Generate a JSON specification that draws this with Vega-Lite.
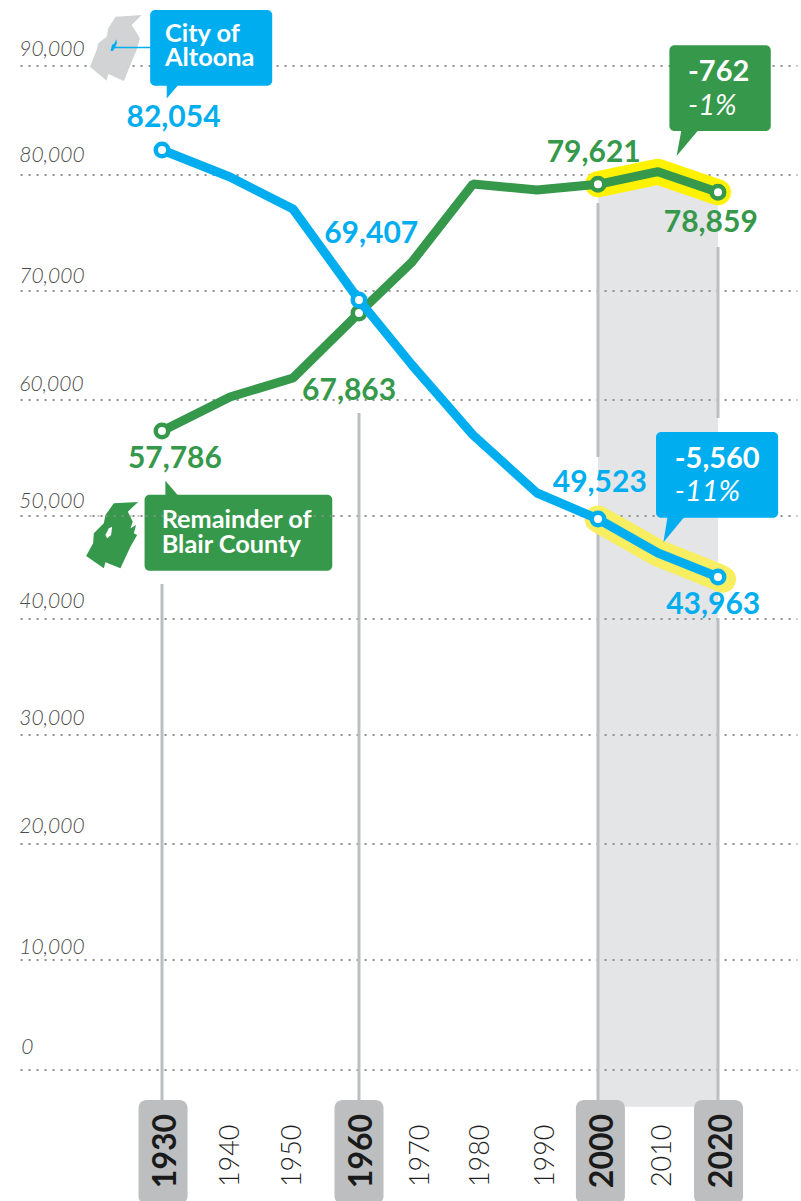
{"$schema":"https://vega.github.io/schema/vega-lite/v6.json","width":801,"height":1201,"padding":0,"autosize":{"type":"fit","contains":"padding"},"background":"white","config":{"view":{"stroke":null}},
"datasets":{
"blue":[{"year":1930,"value":82294},{"year":1940,"value":79828},{"year":1950,"value":77069},{"year":1960,"value":69174},{"year":1970,"value":63211},{"year":1980,"value":56983},{"year":1990,"value":51983},{"year":2000,"value":49709},{"year":2010,"value":46408},{"year":2020,"value":44078}],
"green":[{"year":1930,"value":57328},{"year":1940,"value":60275},{"year":1950,"value":62018},{"year":1960,"value":67982},{"year":1970,"value":72500},{"year":1980,"value":79224},{"year":1990,"value":78707},{"year":2000,"value":79198},{"year":2010,"value":80303},{"year":2020,"value":78509}],
"bluehighlight":[{"year":2000,"value":49709},{"year":2010,"value":46408},{"year":2020,"value":44078},{"year":2020.8,"value":43860}],
"band":[{"year":2000,"value":79198,"value2":-3336},{"year":2010,"value":80303,"value2":-3336},{"year":2020,"value":78509,"value2":-3336}],
"grid":[{"year":1908.5,"year2":2034,"value":0},{"year":1908.5,"year2":2034,"value":10000},{"year":1908.5,"year2":2034,"value":20000},{"year":1908.5,"year2":2034,"value":30000},{"year":1908.5,"year2":2034,"value":40000},{"year":1908.5,"year2":2034,"value":50000},{"year":1908.5,"year2":2034,"value":60000},{"year":1908.5,"year2":2034,"value":70000},{"year":1908.5,"year2":2034,"value":80000},{"year":1908.5,"year2":2034,"value":90000}],
"gridlabels":[{"year":1908.3,"value":90909,"label":"90,000"},{"year":1908.3,"value":81193,"label":"80,000"},{"year":1908.3,"value":70690,"label":"70,000"},{"year":1908.3,"value":60870,"label":"60,000"},{"year":1908.3,"value":50730,"label":"50,000"},{"year":1908.3,"value":41020,"label":"40,000"},{"year":1908.3,"value":30900,"label":"30,000"},{"year":1908.3,"value":21050,"label":"20,000"},{"year":1908.3,"value":10480,"label":"10,000"},{"year":1908.6,"value":1410,"label":"0"}],
"rules":[{"year":1930,"value":43398,"value2":-2727},{"year":1960,"value":58879,"value2":-2727},{"year":2000,"value":77586,"value2":55086},{"year":2000,"value":49612,"value2":-2727},{"year":2020,"value":73793,"value2":58448},{"year":2020,"value":40097,"value2":-2727}],
"pills":[{"year":1930.15,"value":-2727,"value2":-12200,"mid":-7364,"label":"1930"},{"year":1960,"value":-2727,"value2":-12200,"mid":-7364,"label":"1960"},{"year":2000.4,"value":-2727,"value2":-12200,"mid":-7364,"label":"2000"},{"year":2020.1,"value":-2727,"value2":-12200,"mid":-7364,"label":"2020"}],
"ticks":[{"year":1939.7,"value":-7800,"label":"1940"},{"year":1949.5,"value":-7800,"label":"1950"},{"year":1971,"value":-7800,"label":"1970"},{"year":1980.8,"value":-7800,"label":"1980"},{"year":1991,"value":-7800,"label":"1990"},{"year":2010.3,"value":-7800,"label":"2010"}],
"bluelabels":[{"year":1931.7,"value":84404,"label":"82,054"},{"year":1962.3,"value":74138,"label":"69,407"},{"year":2000.3,"value":52069,"label":"49,523"},{"year":2019.2,"value":40485,"label":"43,963"}],
"greenlabels":[{"year":1931.9,"value":54138,"label":"57,786"},{"year":1958.5,"value":60000,"label":"67,863"},{"year":1999.3,"value":81193,"label":"79,621"},{"year":2018.8,"value":75086,"label":"78,859"}],
"bluebox":[{"year":1928.2,"year2":1946.7,"value":95091,"value2":88193},{"year":2009.67,"year2":2030.6,"value":57241,"value2":49835}],
"greenbox":[{"year":2011.9,"year2":2029.3,"value":91882,"value2":84037},{"year":1927.35,"year2":1955.95,"value":51836,"value2":44689}],
"boxnames":[{"year":1930.44,"value":92209,"label":"City of"},{"year":1930.44,"value":90027,"label":"Altoona"},{"year":1929.95,"value":48806,"label":"Remainder of"},{"year":1929.95,"value":46437,"label":"Blair County"}],
"boxchanges":[{"year":2015,"value":88651,"label":"-762"},{"year":2012.8,"value":54138,"label":"-5,560"}],
"boxpercents":[{"year":2015,"value":85505,"label":"-1%"},{"year":2012.8,"value":51293,"label":"-11%"}]
},
"encoding":{
"x":{"field":"year","type":"quantitative","axis":null,"scale":{"domain":[1906,1930,1940,1950,1960,1970,1980,1990,2000,2010,2020,2034],"range":[-1.2,162,230,293,359,412,473,537,598,658,718,802],"zero":false,"nice":false}},
"y":{"field":"value","type":"quantitative","axis":null,"scale":{"domain":[-12000,0,10000,20000,30000,40000,50000,60000,70000,80000,90000,96000],"range":[1202,1070,960,844,735,619,516,400,291,175,66,0],"zero":false,"nice":false}}
},
"layer":[
{"data":{"name":"band"},"mark":{"type":"area","color":"#e4e5e7","opacity":1},"encoding":{"y2":{"field":"value2"}}},
{"data":{"name":"grid"},"mark":{"type":"rule","color":"#8f8f8f","strokeWidth":2,"strokeDash":[2,6]},"encoding":{"x2":{"field":"year2"}}},
{"data":{"name":"gridlabels"},"mark":{"type":"text","font":"Lato","fontStyle":"italic","fontWeight":300,"fontSize":21,"color":"#4d4d4d","align":"left","baseline":"alphabetic"},"encoding":{"text":{"field":"label"}}},
{"data":{"name":"rules"},"mark":{"type":"rule","color":"#bcbec0","strokeWidth":3},"encoding":{"y2":{"field":"value2"}}},
{"data":{"name":"pills"},"mark":{"type":"bar","orient":"vertical","width":49,"cornerRadius":8,"color":"#bcbec0"},"encoding":{"y2":{"field":"value2"}}},
{"data":{"name":"pills"},"mark":{"type":"text","font":"Lato","fontWeight":"bold","fontSize":32,"angle":270,"align":"center","baseline":"middle","dy":3,"color":"#1a1a1a"},"encoding":{"y":{"field":"mid","type":"quantitative"},"text":{"field":"label"}}},
{"data":{"name":"ticks"},"mark":{"type":"text","font":"Lato","fontWeight":300,"fontSize":27,"angle":270,"align":"center","baseline":"middle","dy":3,"color":"#1f1f1f"},"encoding":{"text":{"field":"label"}}},
{"data":{"name":"green"},"transform":[{"filter":"datum.year>=2000"}],"mark":{"type":"line","color":"#fff200","strokeWidth":26,"strokeCap":"round","strokeJoin":"round"}},
{"data":{"name":"bluehighlight"},"mark":{"type":"line","color":"#f7ee62","strokeWidth":27,"strokeCap":"round","strokeJoin":"round"}},
{"data":{"name":"green"},"mark":{"type":"line","color":"#35984a","strokeWidth":9,"strokeJoin":"bevel"}},
{"data":{"name":"green"},"transform":[{"filter":"datum.year==1930||datum.year==1960||datum.year==2000||datum.year==2020"}],"mark":{"type":"point","filled":true,"fill":"white","stroke":"#35984a","strokeWidth":4.5,"size":156,"opacity":1}},
{"data":{"name":"blue"},"mark":{"type":"line","color":"#00aeef","strokeWidth":9,"strokeJoin":"bevel"}},
{"data":{"name":"blue"},"transform":[{"filter":"datum.year==1930||datum.year==1960||datum.year==2000||datum.year==2020"}],"mark":{"type":"point","filled":true,"fill":"white","stroke":"#00aeef","strokeWidth":4.5,"size":156,"opacity":1}},
{"data":{"name":"bluelabels"},"mark":{"type":"text","font":"Lato","fontWeight":"bold","fontSize":30,"color":"#00aeef","align":"center","baseline":"alphabetic"},"encoding":{"text":{"field":"label"}}},
{"data":{"name":"greenlabels"},"mark":{"type":"text","font":"Lato","fontWeight":"bold","fontSize":30,"color":"#35984a","align":"center","baseline":"alphabetic"},"encoding":{"text":{"field":"label"}}},
{"data":{"values":[{"year":1923,"value":91636}]},"mark":{"type":"point","filled":true,"opacity":1,"strokeWidth":0,"size":4,"color":"#d1d3d4","shape":"M-0.3,-31.3L25.7,-33L15.7,-23L20,-16.3L24,-9.7L20.7,2L15.7,13.7L8,33L-7.7,26L-9.3,32.7L-26,18.7L-19.3,2L-17.7,-4.7L-9.3,-11.3L-7.7,-19.7Z"}},
{"data":{"values":[{"year":1923.2,"value":91636}]},"mark":{"type":"point","filled":true,"opacity":1,"strokeWidth":0,"size":4,"color":"#00aeef","shape":"M-6.7,3L-5.3,-3L-2.7,-4.7L-1,-8.7L-0.3,-4.7L-2.7,0.3L-4.3,3Z"}},
{"data":{"values":[{"year":1922.4,"year2":1929,"value":91680}]},"mark":{"type":"rule","color":"#00aeef","strokeWidth":1.5},"encoding":{"x2":{"field":"year2"}}},
{"data":{"values":[{"year":1920.9,"value":48641}]},"mark":{"type":"point","filled":true,"opacity":1,"strokeWidth":0,"size":4,"color":"#35984a","shape":"M11.7,-26.7L36,-28L25.7,-18.3L30.7,-8.3L28.3,-1.7L34,-5L31.7,3.3L35,5L28.3,16.7L18.3,38.3L3.3,32.3L1.7,38.3L-16,26L-9,13.3L-8.3,3.3L1.7,-6.7L3.3,-15ZM6.7,-1.7L3.3,5L5,8.3L9,5L10,-3.3Z"}},
{"data":{"name":"bluebox"},"mark":{"type":"rect","color":"#00aeef","cornerRadius":5,"opacity":1},"encoding":{"x2":{"field":"year2"},"y2":{"field":"value2"}}},
{"data":{"name":"greenbox"},"mark":{"type":"rect","color":"#35984a","cornerRadius":5,"opacity":1},"encoding":{"x2":{"field":"year2"},"y2":{"field":"value2"}}},
{"data":{"values":[{"year":1919,"year2":1956,"value":50000}]},"mark":{"type":"rule","color":"#9a9a9a","strokeWidth":2,"strokeDash":[2,6],"opacity":0.6},"encoding":{"x2":{"field":"year2"}}},
{"data":{"values":[{"year":1930.7,"value":87018}]},"mark":{"type":"point","filled":true,"opacity":1,"strokeWidth":0,"size":4,"color":"#00aeef","shape":"M0,0L0,-15L11,-15L11,-13Z"}},
{"data":{"values":[{"year":2013.1,"value":81743}]},"mark":{"type":"point","filled":true,"opacity":1,"strokeWidth":0,"size":4,"color":"#35984a","shape":"M0,0L5,-27L21,-27L21,-25Z"}},
{"data":{"values":[{"year":2010.9,"value":47447}]},"mark":{"type":"point","filled":true,"opacity":1,"strokeWidth":0,"size":4,"color":"#00aeef","shape":"M0,0L4.4,-27L20.7,-27L20.7,-25Z"}},
{"data":{"values":[{"year":1930.5,"value":53043}]},"mark":{"type":"point","filled":true,"opacity":1,"strokeWidth":0,"size":4,"color":"#35984a","shape":"M0,0L0,16L12,16L12,14Z"}},
{"data":{"name":"boxnames"},"mark":{"type":"text","font":"Lato","fontWeight":"bold","fontSize":25.3,"color":"white","align":"left","baseline":"alphabetic"},"encoding":{"text":{"field":"label"}}},
{"data":{"name":"boxchanges"},"mark":{"type":"text","font":"Lato","fontWeight":"bold","fontSize":29,"color":"white","align":"left","baseline":"alphabetic"},"encoding":{"text":{"field":"label"}}},
{"data":{"name":"boxpercents"},"mark":{"type":"text","font":"Lato","fontStyle":"italic","fontWeight":400,"fontSize":29,"color":"white","align":"left","baseline":"alphabetic"},"encoding":{"text":{"field":"label"}}}
]}
